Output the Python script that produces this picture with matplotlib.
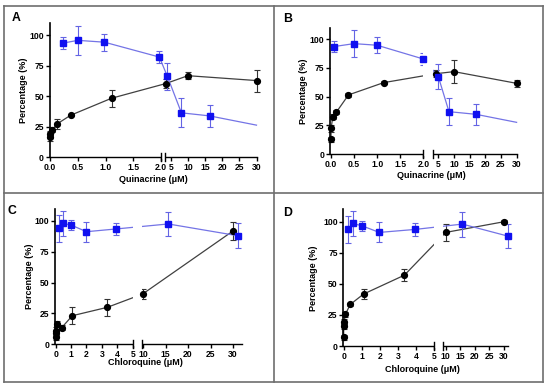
import numpy as np
import matplotlib
matplotlib.use('Agg')
import matplotlib.pyplot as plt
from matplotlib.lines import Line2D

plt.rcParams['font.family'] = ['Liberation Sans', 'DejaVu Sans']
plt.rcParams['font.weight'] = 'bold'

# ---- data ----
# panel A (quinacrine)
a_black_x = [0, 0.005, 0.04, 0.13, 0.37, 1.11, 3.5, 10, 30]
a_black_y = [17, 19, 22.5, 27.5, 34.5, 48.5, 60.5, 67, 63]
a_black_err = [4, 3, 2, 4, 1, 7, 4, 3, 9]
a_blue_x = [0.23, 0.5, 0.98, 1.97, 4.0, 8.1, 16.3, 30]
a_blue_y = [93.7, 96, 94.5, 82.3, 66.5, 36.5, 34, 26.4]
a_blue_err = [5, 12, 7, 5, 11, 12, 9, 0]
a_blue_mark = [1, 1, 1, 1, 1, 1, 1, 0]

# panel B (quinacrine)
b_black_x = [0, 0.005, 0.04, 0.12, 0.38, 1.14, 4.26, 10, 30]
b_black_y = [12.8, 22.4, 32.6, 36.6, 51.5, 62.2, 70, 71.8, 61.6]
b_black_err = [2, 3, 2, 2, 2, 1, 3, 10, 3]
b_blue_x = [0.06, 0.5, 1.0, 2.0, 5.0, 8.4, 17, 30]
b_blue_y = [93.6, 96.2, 94.8, 82.8, 67.4, 36.9, 34.6, 27.6]
b_blue_err = [5, 12, 7, 5, 11, 12, 9, 0]
b_blue_mark = [1, 1, 1, 1, 1, 1, 1, 0]

# panel C (chloroquine)
c_black_x = [0, 0, 0, 0.1, 0.39, 1.08, 3.35, 9.9, 30]
c_black_y = [6, 8.7, 10.6, 16.3, 13.3, 23, 29.8, 40.6, 91.9]
c_black_err = [3, 3, 3, 2, 2, 7, 7, 4, 7]
c_blue_x = [0.24, 0.5, 1.0, 2.0, 3.9, 15.6, 31.1]
c_blue_y = [94, 98, 96.7, 91.3, 93.5, 97.6, 88]
c_blue_err = [11, 10, 4, 8, 5, 10, 10]
c_blue_mark = [1, 1, 1, 1, 1, 1, 1]

# panel D (chloroquine)
d_black_x = [0, 0, 0.02, 0.1, 0.37, 1.1, 3.36, 10, 30]
d_black_y = [7, 16, 19.6, 25.7, 33.5, 41.8, 57, 91.4, 100]
d_black_err = [2, 2, 2, 2, 1.5, 4, 5, 7, 1]
d_blue_x = [0.24, 0.5, 1.0, 1.97, 3.95, 15.7, 31.2]
d_blue_y = [93.8, 98.6, 96.8, 91.4, 93.8, 98.1, 88.5]
d_blue_err = [11, 10, 4, 8, 5, 10, 10]
d_blue_mark = [1, 1, 1, 1, 1, 1, 1]

y_ticks = [0, 25, 50, 75, 100]
q_ticks = [0, 0.5, 1.0, 1.5, 2.0, 5, 10, 15, 20, 25, 30]
q_labels = ['0.0', '0.5', '1.0', '1.5', '2.0', '5', '10', '15', '20', '25', '30']
c_ticks = [0, 1, 2, 3, 4, 5, 10, 15, 20, 25, 30]
c_labels = ['0', '1', '2', '3', '4', '5', '10', '15', '20', '25', '30']

W, H = 550, 389
fig = plt.figure(figsize=(5.5, 3.89), dpi=100)


def px_rect(l, r, t, b):
    return [l / W, 1 - b / H, (r - l) / W, (b - t) / H]


def make_scale(s1, b1, gap, a2, s2):
    # piecewise linear x mapping with a gap between b1 and a2
    e1 = b1 * s1

    def fwd(x):
        x = np.asarray(x, dtype=float)
        return np.where(x <= b1, x * s1,
                        np.where(x >= a2, e1 + gap + (x - a2) * s2,
                                 e1 + (x - b1) / (a2 - b1) * gap))

    def inv(u):
        u = np.asarray(u, dtype=float)
        return np.where(u <= e1, u / s1,
                        np.where(u >= e1 + gap, a2 + (u - e1 - gap) / s2,
                                 b1 + (u - e1) / gap * (a2 - b1)))
    return fwd, inv


def errbars(ax, x, y, e, color):
    eb = ax.errorbar(x, y, yerr=e, fmt='none', ecolor=color, elinewidth=0.8,
                     capsize=2.2, capthick=0.8, zorder=2)
    for art in list(eb.lines[1]) + list(eb.lines[2]):
        art.set_clip_on(False)


panels = [
    dict(rect=(49.5, 256.5, 23.3, 157.3), xlim=(-0.01, 30), scale=(55.5, 2.0, 3.6, 3.2, 3.43),
         hide=False, ticks=q_ticks, labels=q_labels, xlabel='Quinacrine (μM)',
         black=(a_black_x, a_black_y, a_black_err), blue=(a_blue_x, a_blue_y, a_blue_err, a_blue_mark),
         letter='A', lpos=(12, 20.7), ylab=(24, 90), xlab=(153, 180)),
    dict(rect=(330, 516.6, 27.8, 154), xlim=(-0.02, 30), scale=(46.2, 2.0, 10, 3.4, 3.13),
         hide=True, ticks=q_ticks, labels=q_labels, xlabel='Quinacrine (μM)',
         black=(b_black_x, b_black_y, b_black_err), blue=(b_blue_x, b_blue_y, b_blue_err, b_blue_mark),
         letter='B', lpos=(283, 21.7), ylab=(304, 91), xlab=(431, 176)),
    dict(rect=(55, 242, 208.7, 344), xlim=(-0.045, 32), scale=(15.4, 5, 9, 9.7, 4.5),
         hide=True, ticks=c_ticks, labels=c_labels, xlabel='Chloroquine (μM)',
         black=(c_black_x, c_black_y, c_black_err), blue=(c_blue_x, c_blue_y, c_blue_err, c_blue_mark),
         letter='C', lpos=(7, 214.3), ylab=(30, 276), xlab=(145, 362.5)),
    dict(rect=(343.3, 508.4, 209.3, 346), xlim=(-0.02, 31.5), scale=(18.1, 5, 9.3, 9.2, 2.92),
         hide=True, ticks=c_ticks, labels=c_labels, xlabel='Chloroquine (μM)',
         black=(d_black_x, d_black_y, d_black_err), blue=(d_blue_x, d_blue_y, d_blue_err, d_blue_mark),
         letter='D', lpos=(283, 216), ylab=(313, 278), xlab=(422, 369.5)),
]

blue_c = '#1010f0'
blue_line = '#7474e6'
blue_err = '#6464e4'
black_line = '#404040'

for p in panels:
    ax = fig.add_axes(px_rect(*p['rect']))
    fwd, inv = make_scale(*p['scale'])
    ax.set_xscale('function', functions=(fwd, inv))
    ax.set_xlim(*p['xlim'])
    ax.set_ylim(0, 110)

    bx, by, be = p['black']
    ux, uy, ue, um = p['blue']
    um = np.array(um, dtype=bool)

    ax.plot(bx, by, color=black_line, lw=0.9, zorder=2, clip_on=False)
    errbars(ax, bx, by, be, '#333333')
    ax.plot(bx, by, 'o', color='black', ms=4.2, zorder=4, clip_on=False)

    ax.plot(ux, uy, color=blue_line, lw=0.9, zorder=2, clip_on=False)
    ux_m = np.array(ux)[um]
    uy_m = np.array(uy)[um]
    ue_m = np.array(ue)[um]
    errbars(ax, ux_m, uy_m, ue_m, blue_err)
    ax.plot(ux_m, uy_m, 's', color=blue_c, ms=3.8, zorder=4, clip_on=False)

    s1, b1, gap, a2, s2 = p['scale']
    ax.axvspan(b1, a2, ymin=-0.012, ymax=1.0 if p['hide'] else 0.012,
               color='white', lw=0, zorder=3, clip_on=False)
    tr = ax.get_xaxis_transform()
    for xb in (b1, a2):
        ax.plot([xb, xb], [-0.03, 0.03], transform=tr, color='black', lw=1.0,
                clip_on=False, zorder=5)

    ax.spines['top'].set_visible(False)
    ax.spines['right'].set_visible(False)
    ax.spines['left'].set_linewidth(1.2)
    ax.spines['bottom'].set_linewidth(1.0)
    ax.set_yticks(y_ticks)
    ax.set_xticks(p['ticks'])
    ax.set_xticklabels(p['labels'])
    ax.tick_params(direction='out', length=3, width=1, labelsize=6.2, pad=1)
    ax.minorticks_off()

    fig.text(p['ylab'][0] / W, 1 - p['ylab'][1] / H, 'Percentage (%)', rotation=90,
             ha='center', va='center', fontsize=6.5, fontweight='bold')
    fig.text(p['xlab'][0] / W, 1 - p['xlab'][1] / H, p['xlabel'],
             ha='center', va='center', fontsize=6.5, fontweight='bold')
    fig.text(p['lpos'][0] / W, 1 - p['lpos'][1] / H, p['letter'],
             ha='left', va='baseline', fontsize=8.8, fontweight='bold')

# panel frame
frame_c = '#6e6e6e'
L, R, T, B = 4, 543, 6, 382
for xs, ys in [((L, R), (T, T)), ((L, R), (B, B)), ((L, L), (T, B)), ((R, R), (T, B)),
               ((274, 274), (T, B)), ((L, R), (193, 193))]:
    fig.add_artist(Line2D([x / W for x in xs], [1 - y / H for y in ys],
                          color=frame_c, lw=1.2))

fig.savefig('out.png', dpi=100)
